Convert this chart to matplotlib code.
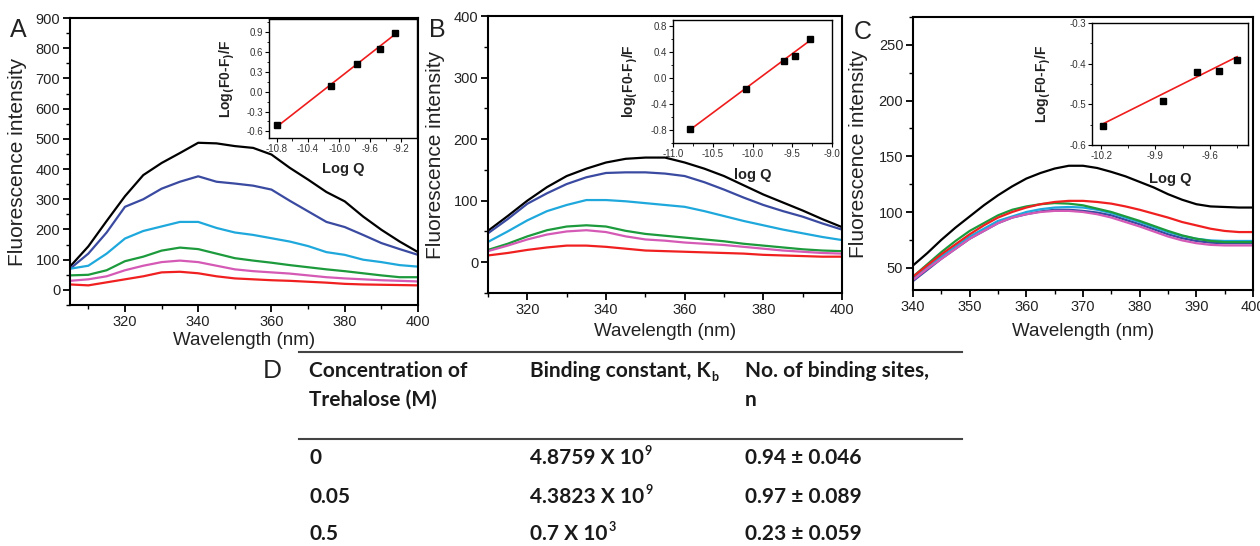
import matplotlib
matplotlib.use("Agg")
import matplotlib.pyplot as plt
from matplotlib.ticker import MultipleLocator
import numpy as np

plt.rcParams['font.family'] = ['Liberation Sans', 'DejaVu Sans']

W, H = 1260, 546

# ---------------- data ----------------
wl_A = [305, 310, 315, 320, 325, 330, 335, 340, 345, 350, 355, 360, 365, 370, 375, 380, 385, 390, 395, 400]
A_black = [77, 144, 228, 310, 380, 420, 453, 487, 485, 476, 470, 448, 404, 365, 324, 293, 243, 199, 160, 125]
A_blue = [70, 120, 190, 275, 300, 335, 358, 376, 358, 352, 345, 332, 295, 260, 225, 208, 182, 155, 135, 116]
A_cyan = [70, 80, 120, 170, 195, 210, 225, 225, 205, 190, 182, 171, 160, 145, 125, 116, 100, 92, 82, 77]
A_green = [48, 50, 65, 95, 110, 130, 140, 135, 120, 105, 97, 90, 82, 75, 68, 62, 55, 48, 42, 42]
A_magenta = [30, 35, 45, 65, 80, 92, 97, 92, 80, 68, 62, 58, 54, 48, 42, 38, 35, 32, 30, 28]
A_red = [18, 15, 25, 35, 45, 58, 60, 55, 45, 38, 35, 32, 30, 27, 24, 20, 18, 17, 16, 15]

wl_B = [310, 315, 320, 325, 330, 335, 340, 345, 350, 355, 360, 365, 370, 375, 380, 385, 390, 395, 400]
B_black = [51, 75, 100, 122, 140, 152, 162, 168, 170, 170, 162, 152, 140, 125, 110, 97, 84, 70, 57]
B_blue = [47, 70, 95, 112, 127, 138, 145, 146, 146, 144, 140, 130, 118, 105, 93, 83, 74, 63, 53]
B_cyan = [33, 50, 68, 83, 93, 101, 101, 99, 96, 93, 90, 83, 75, 67, 60, 53, 47, 41, 36]
B_green = [20, 30, 42, 52, 58, 60, 58, 51, 46, 43, 40, 37, 34, 30, 27, 24, 21, 19, 18]
B_magenta = [18, 27, 37, 45, 50, 52, 49, 42, 37, 35, 32, 30, 28, 25, 22, 19, 17, 15, 14]
B_red = [11, 15, 20, 24, 27, 27, 25, 22, 19, 18, 17, 16, 15, 14, 12, 11, 10, 9, 9]

wl_C = [340, 342.5, 345, 347.5, 350, 352.5, 355, 357.5, 360, 362.5, 365, 367.5, 370, 372.5, 375,
        377.5, 380, 382.5, 385, 387.5, 390, 392.5, 395, 397.5, 400]
C_black = [52, 63, 75, 86, 96, 106, 115, 123, 130, 135, 139, 141.5, 141.5, 139.5, 136,
           132, 127, 122, 116, 111, 107, 105, 104.5, 104, 104]
C_red = [42, 52, 62, 71, 80, 88, 95, 100, 104, 107, 109, 110, 110, 109, 107.5,
         105, 102, 98.5, 95, 91, 88, 85, 83, 82, 82]
C_green = [42, 53, 64, 74, 83, 90, 97, 102, 105, 107, 108, 107.5, 106, 103, 100,
           96, 92, 87.5, 83, 79, 76, 74, 73, 73, 73]
C_cyan = [40, 50, 60, 69, 78, 85, 92, 96, 100, 102.5, 104, 104.5, 104, 102, 99,
          95, 91, 86.5, 82, 78.5, 76, 74.5, 74, 74, 74]
C_blue = [38, 48, 58, 67, 76, 83, 90, 95, 98, 100.5, 102, 102, 101, 99.5, 97,
          93, 89, 84.5, 80, 76.5, 74, 72.5, 72, 72, 72]
C_magenta = [39, 49, 58, 67, 76, 83, 90, 95, 98, 100, 101, 101, 100, 98, 95,
             91, 87, 82.5, 78, 74.5, 72, 70.5, 70, 70, 70]

colors = ['#000000', '#3a4aa0', '#1ea8dc', '#1c9a3c', '#d45ab5', '#f02020']

# inset data
A_logQ = [-10.8, -10.1, -9.77, -9.47, -9.28]
A_logF = [-0.50, 0.09, 0.42, 0.65, 0.89]
A_fit_x = [-10.8, -9.28]
A_fit_y = [-0.53, 0.87]

B_logQ = [-10.78, -10.08, -9.60, -9.47, -9.28]
B_logF = [-0.78, -0.17, 0.27, 0.35, 0.61]
B_fit_x = [-10.78, -9.28]
B_fit_y = [-0.79, 0.58]

C_logQ = [-10.19, -9.86, -9.67, -9.55, -9.45]
C_logF = [-0.553, -0.493, -0.420, -0.418, -0.390]
C_fit_x = [-10.19, -9.45]
C_fit_y = [-0.548, -0.383]

inset_xlabels = ["Log Q", "log Q", "Log Q"]
inset_ylabels = [r"Log$_\mathbf{(}$F0-F$_\mathbf{)}$/F",
                 r"log$_\mathbf{(}$F0-F$_\mathbf{)}$/F",
                 r"Log$_\mathbf{(}$F0-F$_\mathbf{)}$/F"]

# table: (text, small script, 'sup'/'sub'/None)
table_header = [[("Concentration of", "", None), ("Trehalose (M)", "", None)],
                [("Binding constant, K", "b", "sub"), ("", "", None)],
                [("No. of binding sites,", "", None), ("n", "", None)]]
table_rows = [[("0", "", None), ("4.8759 X 10", "9", "sup"), ("0.94 ± 0.046", "", None)],
              [("0.05", "", None), ("4.3823 X 10", "9", "sup"), ("0.97 ± 0.089", "", None)],
              [("0.5", "", None), ("0.7 X 10", "3", "sup"), ("0.23 ± 0.059", "", None)]]

# ---------------- helpers ----------------
fig = plt.figure(figsize=(W / 100, H / 100), dpi=100)
renderer = fig.canvas.get_renderer()


def rect(l, t, r, b):
    return [l / W, 1 - b / H, (r - l) / W, (b - t) / H]


def fx(x):
    return x / W


def fy(y):
    return 1 - y / H


def style_main(ax):
    for s in ax.spines.values():
        s.set_linewidth(1.5)
    ax.tick_params(which='major', direction='out', length=5, width=1.3, labelsize=10.5,
                   top=False, right=False, pad=2, labelcolor='#222222')
    ax.tick_params(which='minor', direction='out', length=3, width=1.0, top=False, right=False)


def style_inset(ax):
    for s in ax.spines.values():
        s.set_linewidth(1.0)
    ax.tick_params(which='major', direction='out', length=3, width=0.8, labelsize=7,
                   top=False, right=False, pad=1, labelcolor='#333333')
    ax.tick_params(which='minor', direction='out', length=1.8, width=0.6, top=False, right=False)


def main_panel(box, x, ys, xlim, ylim, xmaj, xmin, ymaj, ymin, ylab_x, xlab_y):
    ax = fig.add_axes(rect(*box))
    for y, c in zip(ys, colors):
        ax.plot(x, y, color=c, lw=1.6)
    ax.set_xlim(*xlim)
    ax.set_ylim(*ylim)
    ax.xaxis.set_major_locator(MultipleLocator(xmaj))
    ax.xaxis.set_minor_locator(MultipleLocator(xmin))
    ax.yaxis.set_major_locator(MultipleLocator(ymaj))
    ax.yaxis.set_minor_locator(MultipleLocator(ymin))
    style_main(ax)
    ax.set_ylabel("Fluorescence intensity", fontsize=15, color='#222222')
    ax.set_xlabel("Wavelength (nm)", fontsize=13.5, color='#222222')
    ax.yaxis.set_label_coords(ylab_x, 0.5)
    ax.xaxis.set_label_coords(0.5, xlab_y)
    return ax


def inset_panel(box, qx, qy, fx_, fy_, xlim, ylim, xmaj, xmin, ymaj, ymin, xlab, ylab,
                xlab_y, ylab_x, xfmt, yfmt):
    ax = fig.add_axes(rect(*box))
    ax.plot(fx_, fy_, color='#ee1c1c', lw=1.2, zorder=2)
    ax.plot(qx, qy, 's', color='black', ms=4, zorder=3)
    ax.set_xlim(*xlim)
    ax.set_ylim(*ylim)
    ax.xaxis.set_major_locator(MultipleLocator(xmaj))
    ax.xaxis.set_minor_locator(MultipleLocator(xmin))
    ax.yaxis.set_major_locator(MultipleLocator(ymaj))
    ax.yaxis.set_minor_locator(MultipleLocator(ymin))
    ax.xaxis.set_major_formatter(matplotlib.ticker.FormatStrFormatter(xfmt))
    ax.yaxis.set_major_formatter(matplotlib.ticker.FormatStrFormatter(yfmt))
    style_inset(ax)
    ax.set_xlabel(xlab, fontsize=10.5, fontweight='bold', color='#222222')
    ax.set_ylabel(ylab, fontsize=10, fontweight='bold', color='#222222',
                  math_fontfamily='dejavusans')
    ax.xaxis.set_label_coords(0.5, xlab_y)
    ax.yaxis.set_label_coords(ylab_x, 0.5)
    return ax


# Panel A
main_panel((70, 18, 418, 305), wl_A, [A_black, A_blue, A_cyan, A_green, A_magenta, A_red],
           (305, 400), (-50, 900), 20, 10, 100, 50, -0.124, -0.094)
inset_panel((269, 19, 417, 138), A_logQ, A_logF, A_fit_x, A_fit_y,
            (-10.9, -9.0), (-0.7, 1.1), 0.4, 0.2, 0.3, 0.15,
            inset_xlabels[0], inset_ylabels[0], -24 / 119, -32 / 148, '%.1f', '%.1f')

# Panel B
main_panel((488, 16, 842, 293), wl_B, [B_black, B_blue, B_cyan, B_green, B_magenta, B_red],
           (310, 400), (-50, 400), 20, 10, 100, 50, -0.121, -0.108)
inset_panel((673, 20, 832, 143), B_logQ, B_logF, B_fit_x, B_fit_y,
            (-11.0, -9.0), (-1.0, 0.9), 0.5, 0.25, 0.4, 0.2,
            inset_xlabels[1], inset_ylabels[1], -25 / 123, -33 / 159, '%.1f', '%.1f')

# Panel C
main_panel((913, 17, 1253, 290), wl_C, [C_black, C_blue, C_cyan, C_green, C_magenta, C_red],
           (340, 400), (30, 275), 10, 5, 50, 25, -0.132, -0.121)
inset_panel((1092, 23, 1248, 145), C_logQ, C_logF, C_fit_x, C_fit_y,
            (-10.25, -9.39), (-0.6, -0.3), 0.3, 0.15, 0.1, 0.05,
            inset_xlabels[2], inset_ylabels[2], -27 / 122, -39 / 156, '%.1f', '%.1f')

# panel letters
for lab, (x, y) in zip("ABC", [(18, 30), (437, 30), (863, 32)]):
    fig.text(fx(x), fy(y), lab, fontsize=18, ha='center', va='center', color='#222222')

# ---------------- table ----------------
tfont = dict(family='Lato', fontweight='bold', fontsize=15, color='#1a1a1a')
sfont = dict(family='Lato', fontweight='bold', fontsize=9, color='#1a1a1a')


def cell(x, y, item):
    txt, scr, kind = item
    if not txt:
        return
    t = fig.text(fx(x), fy(y), txt, ha='left', va='center', **tfont)
    if scr:
        bb = t.get_window_extent(renderer)
        dy = -7 if kind == 'sup' else 6
        fig.text(fx(bb.x1 + 1), fy(y + dy), scr, ha='left', va='center', **sfont)


fig.text(fx(263), fy(371), "D", fontsize=18, ha='left', va='center', color='#222222',
         family='Lato')
fig.add_artist(plt.Line2D([fx(299), fx(962)], [fy(352), fy(352)], color='#444444', lw=1.5))
fig.add_artist(plt.Line2D([fx(299), fx(962)], [fy(439), fy(439)], color='#444444', lw=1.5))
col_x = [309, 530, 745]
for cx, lines in zip(col_x, table_header):
    for ly, item in zip([371, 400], lines):
        cell(cx, ly, item)
for ry, row in zip([458, 497, 534], table_rows):
    for cx, item in zip(col_x, row):
        cell(cx, ry, item)

fig.savefig("out.png", dpi=100)
